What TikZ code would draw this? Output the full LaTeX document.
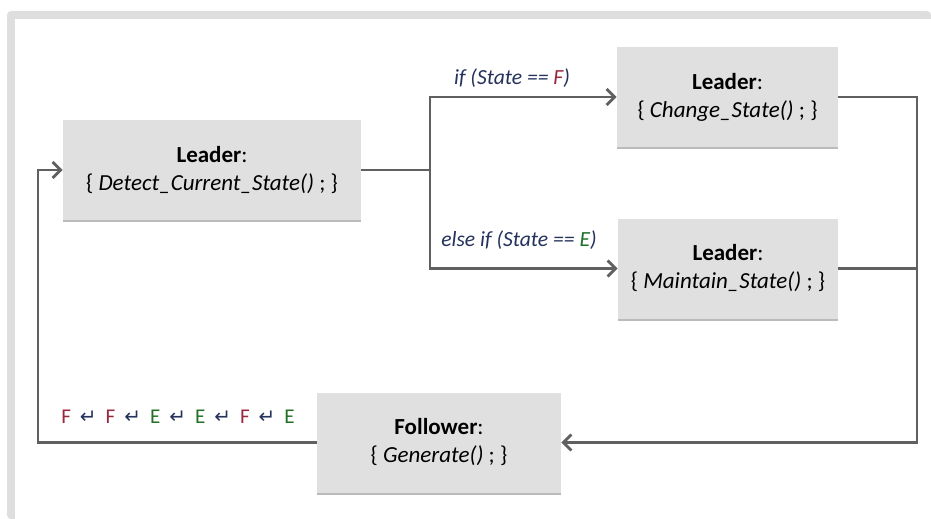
\documentclass[tikz,border=0pt]{standalone}
\usepackage{fontspec}
\setmainfont{Carlito}
\newfontfamily\symbolfont{DejaVu Sans}
\usepackage{xcolor}
\usetikzlibrary{positioning,arrows.meta,shadows}
\definecolor{framegray}{RGB}{222,222,222}
\definecolor{boxgray}{RGB}{224,224,224}
\definecolor{linegray}{RGB}{96,96,96}
\definecolor{condblue}{RGB}{36,50,92}
\definecolor{statered}{RGB}{152,40,62}
\definecolor{stategreen}{RGB}{32,112,40}
\tikzset{
  state-node/.style={fill=boxgray, minimum height=50pt, align=center,
    font=\fontsize{11.5}{14}\selectfont, inner sep=3pt,
    drop shadow={shadow xshift=0pt, shadow yshift=-1pt, fill=black!45, opacity=0.6}},
  flow-line/.style={line width=1.4pt, draw=linegray},
  flow-arrow/.style={flow-line, -{Straight Barb[length=4pt, width=8pt]}},
  cond-label/.style={font=\fontsize{10.8}{13}\selectfont\itshape, text=condblue},
  seq-label/.style={font=\fontsize{10.5}{12}\selectfont}
}
\newcommand{\retsym}{\hspace{4.5pt}{\symbolfont\color{condblue}\fontsize{10}{12}\selectfont ↵}\hspace{4.5pt}}
\newcommand{\stF}{\textcolor{statered}{F}}
\newcommand{\stE}{\textcolor{stategreen}{E}}

\begin{document}
\begin{tikzpicture}[x=0.5pt, y=-0.5pt]
\useasboundingbox (0,0) rectangle (931,519);
% frame
\fill[framegray, rounded corners=2pt] (7,11) rectangle (931,519);
\fill[white] (15,19) rectangle (931,519);

\node[state-node, minimum width=149pt] (detect) at (212,170)
  {\textbf{Leader}:\\\{ \textit{Detect\_Current\_State()} ; \}};
\node[state-node, minimum width=110.5pt] (change) at (727.5,97)
  {\textbf{Leader}:\\\{ \textit{Change\_State()} ; \}};
\node[state-node, minimum width=110pt] (maintain) at (728,268.5)
  {\textbf{Leader}:\\\{ \textit{Maintain\_State()} ; \}};
\node[state-node, minimum width=122pt] (follower) at (439,442.5)
  {\textbf{Follower}:\\\{ \textit{Generate()} ; \}};

\coordinate (split) at (430,170);
\coordinate (rail) at (917,442.5);
\coordinate (loop) at (38,170);

\draw[flow-line] (detect.east) -- (split);
\draw[flow-arrow] (split) |- (change.west);
\draw[flow-arrow] (split) |- (maintain.west);
\draw[flow-arrow] (change.east) -| (rail) -- (follower.east);
\draw[flow-line] (maintain.east) -- (maintain.east -| rail);
\draw[flow-arrow] (follower.west) -| (loop) -- (detect.west);

\node[cond-label] (ifF) at (512,78) {if (State == \textcolor{statered}{F})};
\node[cond-label] (ifE) at (519,240) {else if (State == \textcolor{stategreen}{E})};

\node[seq-label] (seq) at (178,417)
  {\stF\retsym\stF\retsym\stE\retsym\stE\retsym\stF\retsym\stE};
\end{tikzpicture}
\end{document}
